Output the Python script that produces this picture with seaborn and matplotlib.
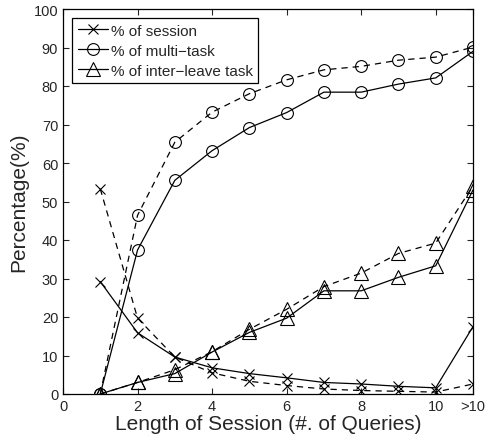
import seaborn as sns
import matplotlib.pyplot as plt
import pandas as pd

## Data
query_len = [1, 2, 3, 4, 5, 6, 7, 8, 9, 10, 11]
xtick_pos = [0, 2, 4, 6, 8, 10, 11]
xtick_lab = ["0", "2", "4", "6", "8", "10", ">10"]

session_solid = [29.2, 15.9, 9.6, 6.8, 5.3, 4.2, 3.0, 2.6, 2.0, 1.6, 17.5]
session_dash = [53.3, 19.7, 9.6, 5.5, 3.3, 2.2, 1.3, 0.9, 0.7, 0.5, 2.6]
multi_solid = [0, 37.4, 55.5, 63.2, 69.2, 73.1, 78.4, 78.4, 80.5, 82.1, 89.0]
multi_dash = [0, 46.4, 65.4, 73.2, 78.0, 81.6, 84.2, 85.1, 86.7, 87.5, 90.1]
inter_solid = [0, 3.0, 5.3, 10.9, 16.0, 19.7, 26.8, 26.8, 30.3, 33.3, 53.0]
inter_dash = [0, 3.0, 6.3, 11.0, 16.8, 22.0, 27.9, 31.4, 36.5, 39.2, 54.0]

sns.set_style("ticks", {"xtick.direction": "in", "ytick.direction": "in"})
plt.rcParams.update({'font.family': ['Liberation Sans', 'DejaVu Sans']})

fig = plt.figure(figsize=(4.87, 4.39), dpi=100)
ax = fig.add_axes([63/487, 44/439, 410/487, 385/439])

series = [
    (session_solid, session_dash, 'x', 6.5, "% of session"),
    (multi_solid, multi_dash, 'o', 8.5, "% of multi\u2212task"),
    (inter_solid, inter_dash, '^', 9.5, "% of inter\u2212leave task"),
]
for solid, dash, mk, ms, name in series:
    df = pd.DataFrame({"x": query_len, "solid": solid, "dash": dash})
    sns.lineplot(data=df, x="x", y="solid", ax=ax, color="black", linewidth=0.9,
                 marker=mk, markersize=ms, markerfacecolor="none",
                 markeredgecolor="black", markeredgewidth=0.8, label=name)
    sns.lineplot(data=df, x="x", y="dash", ax=ax, color="black", linewidth=0.9,
                 linestyle=(0, (5, 4)), marker=mk, markersize=ms,
                 markerfacecolor="none", markeredgecolor="black",
                 markeredgewidth=0.8, legend=False)

ax.set_xlim(0, 11)
ax.set_ylim(0, 100)
ax.set_xticks(xtick_pos)
ax.set_xticklabels(xtick_lab)
ax.set_yticks(range(0, 101, 10))
ax.tick_params(labelsize=10.5, top=True, right=True, length=4, width=0.8)
ax.set_xlabel("Length of Session (#. of Queries)", fontsize=15, labelpad=1)
ax.set_ylabel("Percentage(%)", fontsize=15, labelpad=4)
for s in ax.spines.values():
    s.set_linewidth(0.9)
    s.set_color("black")

leg = ax.legend(loc="upper left", fontsize=11, fancybox=False, framealpha=1,
                edgecolor="black", handlelength=2, borderpad=0.35,
                labelspacing=0.4, handletextpad=0.2, borderaxespad=0.6)
leg.get_frame().set_linewidth(0.9)

fig.savefig("out.png", dpi=100)
